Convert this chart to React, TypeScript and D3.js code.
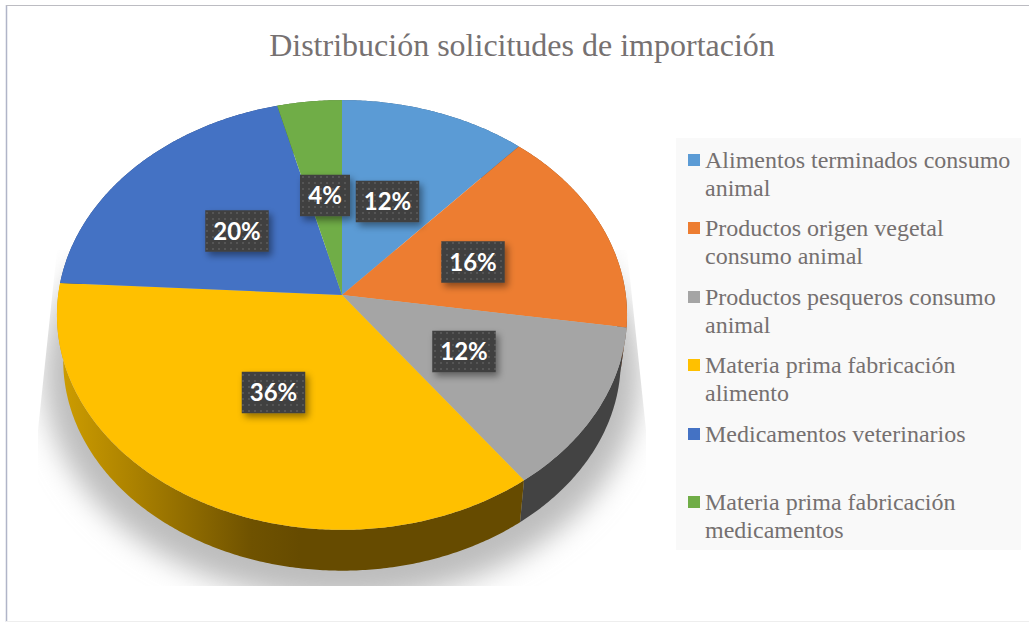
import React from "react";
import * as d3 from "d3";

const categories = [
  ["Alimentos terminados consumo", "animal"],
  ["Productos origen vegetal", "consumo animal"],
  ["Productos pesqueros consumo", "animal"],
  ["Materia prima fabricación", "alimento"],
  ["Medicamentos veterinarios"],
  ["Materia prima fabricación", "medicamentos"],
];
const shares = [11.6, 15.8, 12.49, 36.01, 20.1, 4];
const colors = ["#5b9bd5", "#ed7d31", "#a5a5a5", "#ffc000", "#4472c4", "#70ad47"];
const wallColors = ["#375d80", "#8e4b1d", "#434343", "url(#wallGold)", "#294476", "#43682b"];
const titleText = "Distribución solicitudes de importación";

// layout (not data)
const labelCenters = [[387.5, 201.5], [473, 262], [464, 351.5], [273.5, 392.5], [237, 231], [325, 195.5]];
const legendRows = [160, 228, 297, 365, 434, 502];

const W = 1029, H = 622;
const CX = 342, CY = 295, A = 283.8, B = 213, K = 0.093;
const WALL_SCALE = 0.978, WALL_DY = 46;

function project(theta: number, scale = 1, dy = 0): [number, number] {
  const u = Math.sin(theta), v = -Math.cos(theta), d = 1 - K * v;
  return [CX + (scale * A * u) / d, CY + dy + (scale * B * v) / d];
}
const line = d3.line();
function arcPts(a0: number, a1: number, scale = 1, dy = 0): [number, number][] {
  const n = Math.max(2, Math.ceil((a1 - a0) / 0.01));
  return d3.range(n + 1).map((i) => project(a0 + ((a1 - a0) * i) / n, scale, dy));
}

export default function App() {
  const arcs = d3.pie<number>().sort(null)(shares);
  const fmt = d3.format(".0f");
  return (
    <svg width={W} height={H} style={{ position: "absolute", left: 0, top: 0, display: "block" }}>
      <defs>
        <linearGradient id="wallGold" gradientUnits="userSpaceOnUse" x1="57" x2="300" y1="0" y2="0">
          <stop offset="0" stopColor="#cf9e00" />
          <stop offset="0.3" stopColor="#ad8300" />
          <stop offset="0.8" stopColor="#6f5200" />
          <stop offset="1" stopColor="#664b00" />
        </linearGradient>
        <filter id="blur" x="-20%" y="-20%" width="140%" height="140%">
          <feGaussianBlur stdDeviation="14" />
        </filter>
        <filter id="boxShadow" x="-30%" y="-30%" width="170%" height="170%">
          <feDropShadow dx="3" dy="4" stdDeviation="3.5" floodColor="#000" floodOpacity="0.42" />
        </filter>
        <pattern id="dots" width="6" height="6" patternUnits="userSpaceOnUse">
          <rect width="6" height="6" fill="#404040" />
          <rect x="2" y="2" width="2" height="2" fill="#555555" />
        </pattern>
        <clipPath id="shadowClip">
          <polygon points="57,250 627,250 646,430 646,586 38,586 38,430" />
        </clipPath>
      </defs>
      <rect width={W} height={H} fill="#fff" />
      <line x1={6.5} x2={6.5} y1={5} y2={H} stroke="#b0b5c8" strokeWidth={1.5} />
      <line x1={6} x2={W} y1={5.5} y2={5.5} stroke="#bcbcc2" strokeWidth={1} />
      <line x1={6} x2={W} y1={621.5} y2={621.5} stroke="#eeeeee" strokeWidth={1} />

      <text x={522} y={56} textAnchor="middle" fontFamily="'Liberation Serif'" fontSize={32} fill="#767171">
        {titleText}
      </text>

      <g clipPath="url(#shadowClip)">
        <ellipse cx={342} cy={375} rx={298} ry={225} fill="#bdbdbd" filter="url(#blur)" />
      </g>

      {arcs.map((a, i) => (
        <path
          key={"w" + i}
          d={line([...arcPts(a.startAngle, a.endAngle), ...arcPts(a.startAngle, a.endAngle, WALL_SCALE, WALL_DY).reverse()]) + "Z"}
          fill={wallColors[i]}
        />
      ))}
      {arcs.map((a, i) => (
        <path
          key={"t" + i}
          d={line([[CX, CY], ...arcPts(a.startAngle, a.endAngle)]) + "Z"}
          fill={colors[i]}
        />
      ))}

      {arcs.map((a, i) => {
        const [x, y] = labelCenters[i];
        const w = i === 5 ? 50 : 63.5, h = 41.5;
        return (
          <g key={"l" + i}>
            <rect x={x - w / 2} y={y - h / 2} width={w} height={h} fill="url(#dots)" filter="url(#boxShadow)" />
            <text x={x} y={y + 8.5} textAnchor="middle" fontFamily="Lato" fontWeight={700} fontSize={24} fill="#fff">
              {fmt(a.value)}%
            </text>
          </g>
        );
      })}

      <rect x={676} y={138} width={345} height={412} fill="#f9f9f9" />
      {categories.map((rows, i) => (
        <g key={"k" + i}>
          <rect x={688} y={legendRows[i] - 6} width={12} height={12} fill={colors[i]} />
          {rows.map((r, j) => (
            <text key={j} x={705} y={legendRows[i] + 8 + j * 28} fontFamily="'Liberation Serif'" fontSize={24} fill="#757070">
              {r}
            </text>
          ))}
        </g>
      ))}
    </svg>
  );
}
